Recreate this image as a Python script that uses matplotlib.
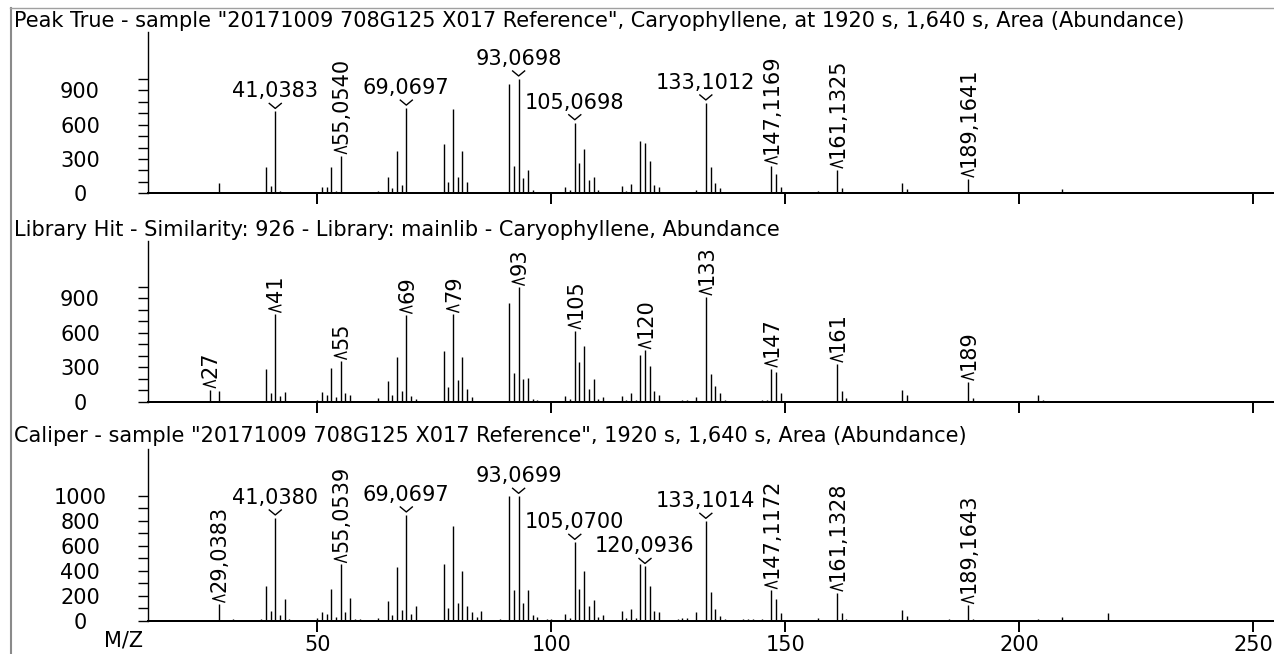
import numpy as np
import matplotlib.pyplot as plt
from matplotlib.lines import Line2D
from matplotlib.transforms import Affine2D

plt.rcParams['font.family'] = ['DejaVu Sans']

W, H = 1274, 654
FS = 15
PT = 0.72  # points per pixel at dpi 100

# --- Peak True (deconvoluted sample spectrum) ---
mz1 = [29, 39, 40, 41, 42, 43, 51, 52, 53, 54, 55, 63, 65, 66, 67, 68, 69,
       77, 78, 79, 80, 81, 82, 91, 92, 93, 94, 95, 96, 103, 104, 105, 106,
       107, 108, 109, 110, 115, 116, 117, 119, 120, 121, 122, 123, 127, 128,
       129, 131, 132, 133, 134, 135, 136, 145, 147, 148, 149, 157, 161, 162,
       163, 175, 176, 189, 190, 204, 209]
ab1 = [88, 228, 64, 716, 20, 15, 53, 53, 228, 18, 330, 18, 140, 44, 368, 76,
       745, 433, 96, 737, 140, 368, 96, 953, 240, 1000, 134, 205, 32, 53, 32,
       617, 263, 389, 120, 140, 32, 64, 23, 85, 456, 444, 281, 76, 53, 10, 10,
       10, 30, 15, 790, 231, 88, 50, 15, 240, 167, 58, 23, 205, 44, 15, 88, 35,
       126, 15, 15, 35]
lab1_mz = [41, 55, 69, 93, 105, 133, 147, 161, 189]
lab1_txt = ["41,0383", "55,0540", "69,0697", "93,0698", "105,0698",
            "133,1012", "147,1169", "161,1325", "189,1641"]
lab1_vert = [False, True, False, False, False, False, True, True, True]

# --- Library hit (mainlib) ---
mz2 = [27, 29, 39, 40, 41, 42, 43, 50, 51, 52, 53, 54, 55, 56, 57, 63, 65, 66,
       67, 68, 69, 70, 71, 77, 78, 79, 80, 81, 82, 83, 91, 92, 93, 94, 95, 96,
       97, 103, 104, 105, 106, 107, 108, 109, 110, 111, 115, 116, 117, 118,
       119, 120, 121, 122, 123, 128, 129, 131, 133, 134, 135, 136, 137, 145,
       146, 147, 148, 149, 161, 162, 163, 175, 176, 189, 190, 204, 205]
ab2 = [105, 94, 287, 73, 763, 50, 82, 18, 82, 61, 298, 38, 354, 73, 61, 29,
       181, 61, 386, 94, 754, 50, 26, 439, 126, 763, 190, 386, 114, 38, 860,
       254, 999, 199, 210, 23, 15, 50, 26, 620, 342, 482, 114, 199, 26, 38, 50,
       15, 73, 18, 403, 447, 310, 94, 61, 15, 15, 38, 915, 243, 135, 73, 18,
       18, 18, 287, 263, 73, 330, 94, 29, 102, 61, 172, 29, 61, 18]
lab2_mz = [27, 41, 55, 69, 79, 93, 105, 120, 133, 147, 161, 189]
lab2_txt = [str(m) for m in lab2_mz]
lab2_vert = [True] * len(lab2_mz)

# --- Caliper (raw sample spectrum) ---
mz3 = [29, 32, 38, 39, 40, 41, 42, 43, 44, 50, 51, 52, 53, 54, 55, 56, 57, 58,
       59, 63, 64, 65, 66, 67, 68, 69, 70, 71, 73, 76, 77, 78, 79, 80, 81, 82,
       83, 84, 85, 89, 91, 92, 93, 94, 95, 96, 97, 99, 100, 102, 103, 104,
       105, 106, 107, 108, 109, 110, 111, 113, 115, 116, 117, 118, 119, 120,
       121, 122, 123, 124, 127, 128, 129, 131, 132, 133, 134, 135, 136, 137,
       141, 142, 143, 145, 147, 148, 149, 157, 161, 162, 163, 175, 176, 185,
       189, 190, 204, 209, 219]
ab3 = [135, 14, 14, 276, 79, 824, 46, 176, 14, 24, 68, 57, 257, 35, 453, 68,
       187, 14, 14, 24, 10, 157, 46, 428, 87, 848, 57, 117, 10, 10, 458, 106,
       759, 146, 398, 117, 68, 35, 79, 14, 1000, 247, 997, 146, 247, 46, 35,
       14, 14, 10, 57, 24, 629, 257, 398, 117, 165, 35, 46, 10, 76, 24, 95, 24,
       458, 436, 276, 76, 68, 10, 14, 24, 24, 68, 10, 797, 233, 92, 43, 14, 14,
       14, 14, 14, 244, 173, 65, 22, 225, 65, 14, 84, 43, 14, 125, 14, 14, 33,
       65]
lab3_mz = [29, 41, 55, 69, 93, 105, 120, 133, 147, 161, 189]
lab3_txt = ["29,0383", "41,0380", "55,0539", "69,0697", "93,0699", "105,0700",
            "120,0936", "133,1014", "147,1172", "161,1328", "189,1643"]
lab3_vert = [True, False, True, False, False, False, False, False, True,
             True, True]

title1 = ('Peak True - sample "20171009 708G125 X017 Reference", '
          'Caryophyllene, at 1920 s, 1,640 s, Area (Abundance)')
title2 = 'Library Hit - Similarity: 926 - Library: mainlib - Caryophyllene, Abundance'
title3 = ('Caliper - sample "20171009 708G125 X017 Reference", '
          '1920 s, 1,640 s, Area (Abundance)')

xticks = [50, 100, 150, 200, 250]
yticks = list(range(0, 1001, 100))

# caret shapes in pixels, relative to the top of the labelled peak
CARET_DOWN = ([-6, 0, 6], [8, 3, 8])
CARET_LEFT = ([5.5, -6.5, 5.5], [2, 5.5, 9])

fig = plt.figure(figsize=(W / 100, H / 100), dpi=100)

# window frame
fig.add_artist(Line2D([10.5 / W, 10.5 / W], [0, 1 - 8 / H], color='#8a8a8a', lw=1.5))
fig.add_artist(Line2D([10 / W, 1], [1 - 8 / H, 1 - 8 / H], color='#a0a0a0', lw=1))


def panel(top, bottom, ymax, mz, ab, lab_mz, lab_txt, lab_vert, title,
          title_base, label_step, show_x):
    left = 147.5
    ax = fig.add_axes([left / W, 1 - bottom / H, 1 - left / W, (bottom - top) / H])
    ax.vlines(mz, 0, ab, color='black', lw=1.0)
    ax.set_xlim(13.7, 254.4)
    ax.set_ylim(0, ymax)
    for s in ('top', 'right'):
        ax.spines[s].set_visible(False)
    ax.spines['bottom'].set_linewidth(2 * PT)
    ax.spines['left'].set_linewidth(1.0)
    ax.set_xticks(xticks)
    ax.set_yticks(yticks)
    ax.set_yticklabels([str(v) if v % label_step == 0 else '' for v in yticks])
    ax.tick_params(axis='y', length=10 * PT, width=1.0, pad=41.4, labelsize=FS)
    ax.tick_params(axis='x', length=11 * PT, width=1.4, pad=2, labelsize=FS,
                   labelbottom=show_x)
    for t in ax.get_yticklabels():
        t.set_horizontalalignment('center')

    heights = dict(zip(mz, ab))
    for m, txt, vert in zip(lab_mz, lab_txt, lab_vert):
        h = heights[m]
        if vert:
            ax.annotate(txt, (m, h), xytext=(0.5, 12 * PT), textcoords='offset points',
                        rotation=90, ha='center', va='bottom', fontsize=FS)
            cx, cy = CARET_LEFT
        else:
            ax.annotate(txt, (m, h), xytext=(0, 14 * PT), textcoords='offset points',
                        ha='center', va='baseline', fontsize=FS)
            cx, cy = CARET_DOWN
        # caret drawn in pixel units around the peak top
        px, py = ax.transData.transform((m, h))
        fig.add_artist(Line2D(cx, cy, color='black', lw=1.0,
                              transform=Affine2D().translate(px, py)))

    fig.text(14 / W, 1 - title_base / H, title, ha='left', va='baseline', fontsize=FS)
    return ax


panel(32.3, 193.3, 1408, mz1, ab1, lab1_mz, lab1_txt, lab1_vert, title1, 27, 300, False)
panel(240.7, 401.7, 1404, mz2, ab2, lab2_mz, lab2_txt, lab2_vert, title2, 235.5, 300, False)
panel(449.3, 621, 1373, mz3, ab3, lab3_mz, lab3_txt, lab3_vert, title3, 442.5, 200, True)

fig.text(124 / W, 1 - 640 / H, 'M/Z', ha='center', va='center', fontsize=FS)

fig.savefig('out.png', dpi=100)
